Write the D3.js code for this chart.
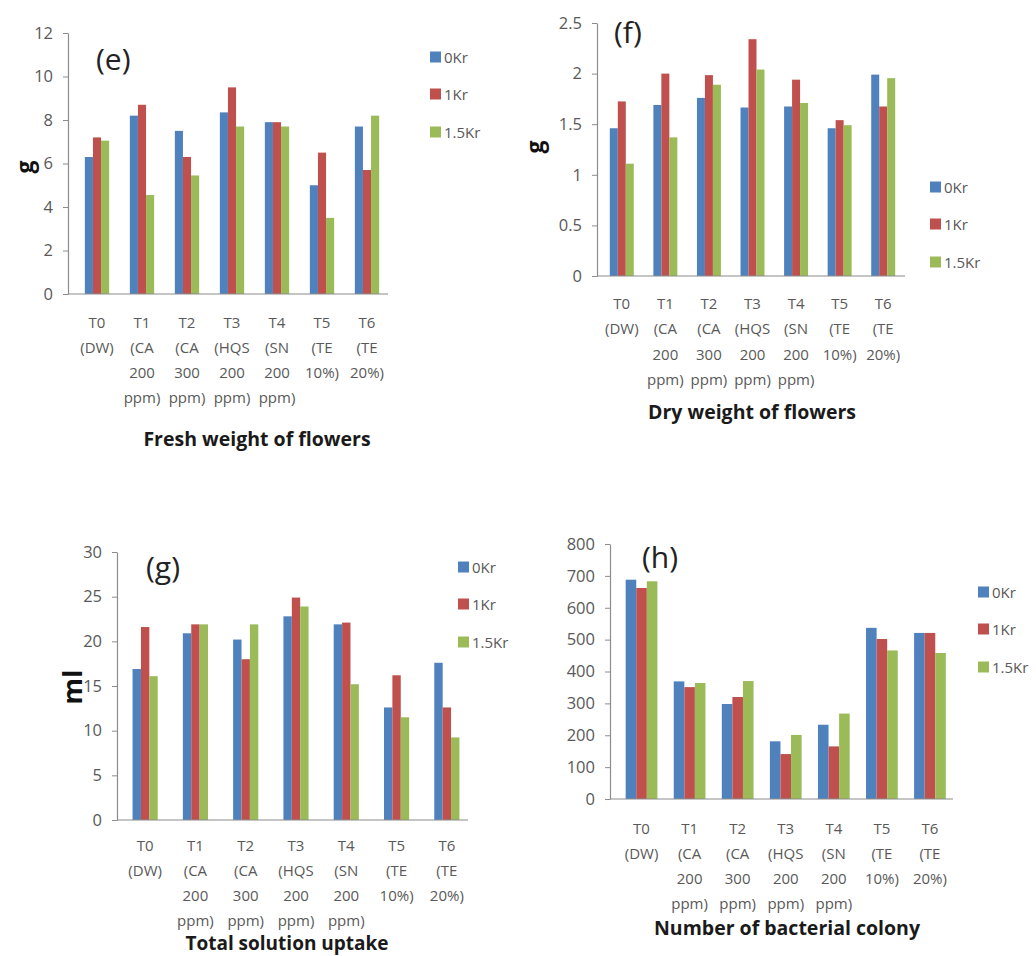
<!DOCTYPE html>
<html><head><meta charset="utf-8">
<script src="https://cdn.jsdelivr.net/npm/d3@7"></script>
<style>
html,body{margin:0;padding:0;background:#fff;}
svg{display:block;}
text{font-family:"Open Sans",Lato,sans-serif;}
</style></head>
<body>
<script>
// ---- data ----
const categories = ["T0 (DW)","T1 (CA 200 ppm)","T2 (CA 300 ppm)","T3 (HQS 200 ppm)","T4 (SN 200 ppm)","T5 (TE 10%)","T6 (TE 20%)"];
const seriesNames = ["0Kr","1Kr","1.5Kr"];
const seriesColors = ["#4F81BD","#C0504D","#9BBB59"];

const freshWeight0Kr  = [6.3, 8.2, 7.5, 8.35, 7.9, 5.0, 7.7];
const freshWeight1Kr  = [7.2, 8.7, 6.3, 9.5, 7.9, 6.5, 5.7];
const freshWeight15Kr = [7.05, 4.55, 5.45, 7.7, 7.7, 3.5, 8.2];
const freshTicks = [0,2,4,6,8,10,12];

const dryWeight0Kr  = [1.46, 1.69, 1.76, 1.665, 1.675, 1.46, 1.99];
const dryWeight1Kr  = [1.725, 2.0, 1.985, 2.34, 1.94, 1.54, 1.675];
const dryWeight15Kr = [1.11, 1.37, 1.89, 2.04, 1.71, 1.49, 1.955];
const dryTicks = [0,0.5,1,1.5,2,2.5];

const uptake0Kr  = [16.9, 20.9, 20.2, 22.8, 21.9, 12.6, 17.6];
const uptake1Kr  = [21.6, 21.9, 18.0, 24.9, 22.1, 16.2, 12.6];
const uptake15Kr = [16.1, 21.9, 21.9, 23.9, 15.2, 11.5, 9.25];
const uptakeTicks = [0,5,10,15,20,25,30];

const colony0Kr  = [688, 369, 298, 181, 233, 537, 521];
const colony1Kr  = [662, 351, 320, 141, 165, 502, 521];
const colony15Kr = [683, 364, 370, 201, 268, 466, 458];
const colonyTicks = [0,100,200,300,400,500,600,700,800];

const panels = [
  {tag:"(e)", yLabel:"g", title:"Fresh weight of flowers", series:[freshWeight0Kr,freshWeight1Kr,freshWeight15Kr], ticks:freshTicks},
  {tag:"(f)", yLabel:"g", title:"Dry weight of flowers", series:[dryWeight0Kr,dryWeight1Kr,dryWeight15Kr], ticks:dryTicks},
  {tag:"(g)", yLabel:"ml", title:"Total solution uptake", series:[uptake0Kr,uptake1Kr,uptake15Kr], ticks:uptakeTicks},
  {tag:"(h)", yLabel:"", title:"Number of bacterial colony", series:[colony0Kr,colony1Kr,colony15Kr], ticks:colonyTicks}
];

// ---- layout (positions only) ----
const layouts = [
  {ax:68, bx0:74.5, bx1:389.5, ax1:388, grp:0.54, yTop:33, yBot:294, tagX:96, tagY:70, ylX:24, ylY:167, ylSize:23,
   legX:430, legY:[57,94,132], catY:322, catStep:25.3, titleX:257, titleY:446, titleSize:19.5},
  {ax:597, bx0:600, bx1:905, ax1:905, grp:0.55, yTop:23, yBot:276, tagX:614, tagY:43, ylX:534, ylY:147, ylSize:23,
   legX:930, legY:[187,224,262], catY:303, catStep:25.6, titleX:752, titleY:419, titleSize:19.5},
  {ax:117, bx0:120, bx1:472, ax1:468, grp:0.5, yTop:552, yBot:820, tagX:146, tagY:578, ylX:71, ylY:687, ylSize:27,
   legX:458, legY:[567,604,642], catY:845, catStep:25, titleX:287, titleY:950, titleSize:19},
  {ax:610, bx0:617.5, bx1:954, ax1:953, grp:0.66, yTop:544, yBot:799, tagX:642, tagY:568, ylX:560, ylY:670, ylSize:23,
   legX:978, legY:[592,629,667], catY:828, catStep:25, titleX:787, titleY:935, titleSize:19.5}
];

const svg = d3.select("body").append("svg").attr("width",1036).attr("height",956);

panels.forEach((p,pi)=>{
  const L = layouts[pi];
  const g = svg.append("g");
  const yMax = d3.max(p.ticks);
  const y = d3.scaleLinear().domain([0,yMax]).range([L.yBot,L.yTop]);
  const x = d3.scaleBand().domain(categories).range([L.bx0,L.bx1]).paddingInner(0).paddingOuter(0);
  const groupW = x.bandwidth()*L.grp;
  const xs = d3.scaleBand().domain(seriesNames).range([0,groupW]).padding(0);

  // bars
  seriesNames.forEach((s,si)=>{
    g.append("g").selectAll("rect").data(p.series[si]).join("rect")
      .attr("x",(d,i)=>x(categories[i]) + (x.bandwidth()-groupW)/2 + xs(s))
      .attr("y",d=>y(d))
      .attr("width",xs.bandwidth())
      .attr("height",d=>y(0)-y(d))
      .attr("fill",seriesColors[si]);
  });

  // y axis
  const ya = g.append("g").attr("transform",`translate(${L.ax},0)`)
    .call(d3.axisLeft(y).tickValues(p.ticks).tickSize(5).tickSizeOuter(0).tickPadding(10).tickFormat(d=>d3.format("")(d)));
  ya.select(".domain").attr("stroke","#8c8c8c").attr("stroke-width",1.2);
  ya.selectAll(".tick line").attr("stroke","#8c8c8c");
  ya.selectAll(".tick text").attr("fill","#595959").attr("font-size",16.5).attr("font-family","'Open Sans', Lato, sans-serif");

  // x axis line
  g.append("line").attr("x1",L.ax).attr("x2",L.ax1).attr("y1",y(0)).attr("y2",y(0))
    .attr("stroke","#8c8c8c").attr("stroke-width",1.2);

  // category labels (wrapped on spaces)
  categories.forEach(c=>{
    const t = g.append("text").attr("text-anchor","middle").attr("fill","#595959").attr("font-size",15);
    c.split(" ").forEach((w,wi)=>{
      t.append("tspan").attr("x",x(c)+x.bandwidth()/2).attr("y",L.catY+5.5+wi*L.catStep).text(w);
    });
  });

  // panel tag
  g.append("text").attr("x",L.tagX).attr("y",L.tagY).attr("font-size",30).attr("fill","#222").text(p.tag);

  // y label
  if(p.yLabel){
    g.append("text").attr("transform",`translate(${L.ylX},${L.ylY}) rotate(-90)`)
      .attr("text-anchor","middle").attr("dominant-baseline","central")
      .attr("font-weight","bold").attr("font-size",L.ylSize).attr("fill","#111").text(p.yLabel);
  }

  // title
  g.append("text").attr("x",L.titleX).attr("y",L.titleY).attr("text-anchor","middle")
    .attr("font-weight","bold").attr("font-size",L.titleSize).attr("fill","#1a1a1a").text(p.title);

  // legend
  seriesNames.forEach((s,si)=>{
    g.append("rect").attr("x",L.legX).attr("y",L.legY[si]-5.5).attr("width",11).attr("height",11).attr("fill",seriesColors[si]);
    g.append("text").attr("x",L.legX+14).attr("y",L.legY[si]).attr("dominant-baseline","central")
      .attr("font-size",15).attr("fill","#595959").text(s);
  });
});
</script>
</body></html>
